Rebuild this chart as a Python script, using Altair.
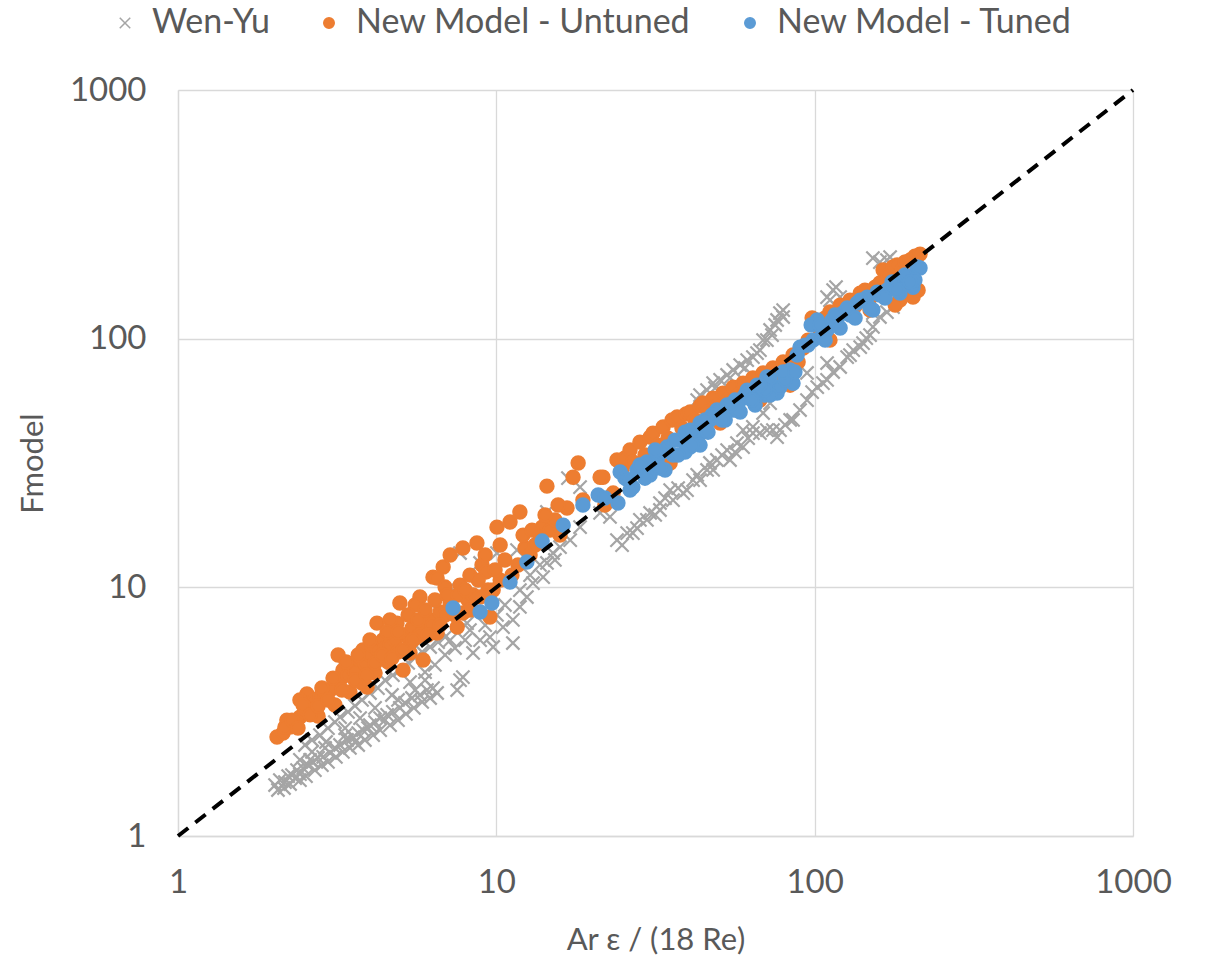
import altair as alt
import pandas as pd

# Values, stored as log10 exponents
# (log10 of Ar eps / (18 Re) and log10 of Fmodel).
wen_yu_log_x = [
    0.305, 0.320, 0.336, 0.346, 0.358, 0.374, 0.383, 0.393, 0.408, 0.424, 0.440, 0.456,
    0.478, 0.493, 0.509, 0.531, 0.550, 0.566, 0.581, 0.597, 0.619, 0.635, 0.657, 0.675,
    0.697, 0.713, 0.735, 0.760, 0.782, 0.801, 0.814, 0.877, 0.886, 0.895, 0.368, 0.415,
    0.462, 0.525, 0.556, 0.603, 0.650, 0.691, 0.745, 0.776,
    0.399, 0.421, 0.446, 0.471, 0.493, 0.509, 0.534, 0.556, 0.578, 0.603, 0.628, 0.650,
    0.675, 0.697, 0.723, 0.745, 0.767, 0.792, 0.817, 0.839, 0.855, 0.908, 0.927, 0.949,
    0.980, 0.990, 1.021, 1.052, 1.052, 1.074, 1.096, 1.115, 1.147, 1.159, 1.178, 1.200,
    1.232, 1.263, 0.823, 0.855, 0.886, 0.949, 1.002, 1.065, 1.159, 1.263, 1.326, 1.357,
    1.225,
    1.379, 1.411, 1.429, 1.451, 1.473, 1.483, 1.514, 1.514, 1.546, 1.555, 1.587, 1.599,
    1.618, 1.640, 1.662, 1.681, 1.693, 1.725, 1.734, 1.756, 1.775, 1.775, 1.806, 1.806,
    1.828, 1.850, 1.869, 1.882, 1.891, 1.923, 1.932, 1.954, 1.976, 2.008, 2.026, 2.039,
    2.058, 2.080, 2.102, 2.121, 2.143, 2.152, 2.174, 2.183, 2.205, 2.227, 2.246, 1.976,
    2.039, 1.838, 1.860, 2.183, 2.253,
    1.662, 1.681, 1.703, 1.725, 1.744, 1.766, 1.788, 1.819, 1.838, 1.850, 1.860, 1.876,
    1.882, 1.891, 1.901, 1.901, 2.039, 2.058, 2.080, 2.048, 2.067, 2.183, 2.205, 2.227,
    2.237, 1.631, 1.806,
    0.314, 0.333, 0.352, 0.383, 0.402, 0.430, 0.452, 0.471, 0.496, 0.518, 0.540, 0.566,
    0.587, 0.613, 0.635, 0.666, 0.691, 0.716, 0.741, 0.767, 0.792, 0.383, 0.421, 0.465,
    0.525, 0.572, 0.619, 0.672, 0.729, 0.776, 0.807, 0.839, 0.870, 0.902, 0.917, 0.965,
    1.002, 1.027, 1.074, 1.106, 1.137, 1.184,
    1.395, 1.442, 1.499, 1.530, 1.571, 1.631, 1.671, 1.709, 1.750, 1.791, 1.907, 1.992,
    2.111, 2.162, 1.640, 1.687, 1.734, 1.781, 1.828, 1.866,
]
wen_yu_log_y = [
    0.205, 0.225, 0.217, 0.241, 0.245, 0.265, 0.249, 0.273, 0.285, 0.298, 0.314, 0.318,
    0.334, 0.354, 0.366, 0.386, 0.398, 0.414, 0.426, 0.434, 0.458, 0.474, 0.487, 0.499,
    0.515, 0.535, 0.555, 0.567, 0.587, 0.595, 0.575, 0.587, 0.627, 0.639, 0.233, 0.306,
    0.354, 0.406, 0.378, 0.446, 0.466, 0.547, 0.587, 0.627,
    0.366, 0.386, 0.406, 0.434, 0.458, 0.478, 0.499, 0.523, 0.547, 0.575, 0.595, 0.627,
    0.647, 0.667, 0.696, 0.716, 0.740, 0.760, 0.780, 0.800, 0.788, 0.856, 0.736, 0.788,
    0.800, 0.760, 0.840, 0.869, 0.776, 0.921, 0.961, 1.017, 1.041, 1.098, 1.138, 1.162,
    1.190, 1.242, 0.897, 1.001, 1.138, 1.098, 1.138, 1.150, 1.303, 1.403, 1.299, 1.283,
    1.439,
    1.190, 1.218, 1.218, 1.271, 1.271, 1.299, 1.339, 1.311, 1.391, 1.351, 1.379, 1.391,
    1.431, 1.431, 1.472, 1.472, 1.512, 1.552, 1.512, 1.580, 1.632, 1.564, 1.645, 1.620,
    1.620, 1.632, 1.632, 1.604, 1.632, 1.673, 1.673, 1.713, 1.753, 1.805, 1.821, 1.834,
    1.866, 1.886, 1.926, 1.954, 1.966, 1.982, 2.014, 2.047, 2.087, 2.107, 2.127, 1.862,
    1.902, 1.701, 1.741, 2.103, 2.155,
    1.793, 1.821, 1.834, 1.854, 1.874, 1.894, 1.914, 1.942, 1.994, 1.994, 2.035, 2.055,
    2.075, 2.103, 2.087, 2.115, 2.167, 2.195, 2.167, 2.155, 2.207, 2.324, 2.308, 2.316,
    2.328, 1.753, 1.926,
    0.185, 0.193, 0.209, 0.225, 0.241, 0.265, 0.285, 0.298, 0.318, 0.338, 0.354, 0.366,
    0.386, 0.406, 0.426, 0.446, 0.466, 0.491, 0.515, 0.539, 0.555, 0.306, 0.338, 0.378,
    0.434, 0.474, 0.515, 0.567, 0.619, 0.659, 0.688, 0.728, 0.756, 0.788, 0.828, 0.848,
    0.889, 0.929, 0.989, 1.049, 1.090, 1.110,
    1.170, 1.238, 1.291, 1.359, 1.399, 1.452, 1.500, 1.532, 1.544, 1.600, 1.653, 1.785,
    1.934, 2.002, 1.773, 1.801, 1.842, 1.882, 1.954, 2.014,
]

untuned_log_x = [
    0.311, 0.330, 0.352, 0.371, 0.383, 0.399, 0.405, 0.415, 0.430, 0.446, 0.462, 0.478,
    0.493, 0.503, 0.509, 0.518, 0.534, 0.547, 0.556, 0.572, 0.581, 0.587, 0.594, 0.603,
    0.609, 0.625, 0.628, 0.644, 0.650, 0.666, 0.682, 0.688, 0.697, 0.707, 0.713, 0.729,
    0.735, 0.751, 0.760, 0.770, 0.776, 0.792, 0.801, 0.814, 0.823, 0.833, 0.855, 0.861,
    0.877, 0.886, 0.895, 0.911, 0.927, 0.939, 0.955, 0.968, 0.974, 0.980, 0.990, 1.002,
    1.027, 1.043, 1.049, 1.074, 1.068, 1.090, 1.106, 1.122, 1.144, 1.137, 1.159, 1.169,
    1.184, 1.222, 1.241, 1.257, 1.335, 0.895, 0.855, 0.814, 0.839, 0.745, 0.666, 1.200,
    1.272, 0.342, 0.383,
    0.440, 0.493, 0.540, 0.578, 0.619, 0.660, 0.691, 0.729, 0.760, 0.798, 0.839, 0.917,
    0.949, 1.012,
    0.336, 0.358, 0.377, 0.393, 0.415, 0.440, 0.452, 0.471, 0.487, 0.515, 0.528, 0.556,
    0.566, 0.591, 0.603, 0.619, 0.641, 0.657, 0.672, 0.691, 0.707, 0.723, 0.738, 0.754,
    0.776, 0.785, 0.807, 0.823, 0.845, 0.870, 0.880, 0.902, 0.917, 0.943, 0.965, 0.996,
    1.012, 1.084, 1.112, 1.153, 1.194,
    1.379, 1.395, 1.404, 1.420, 1.429, 1.451, 1.467, 1.483, 1.492, 1.508, 1.524, 1.539,
    1.552, 1.568, 1.583, 1.596, 1.609, 1.624, 1.640, 1.649, 1.665, 1.681, 1.697, 1.712,
    1.728, 1.744, 1.759, 1.775, 1.791, 1.806, 1.822, 1.838, 1.854, 1.869, 1.885, 1.901,
    1.916, 1.932, 1.948, 1.964, 1.979, 1.992, 2.001, 2.017, 2.033, 2.048, 2.064, 2.080,
    2.095, 2.111, 2.127, 2.143, 2.158, 2.174, 2.190, 2.205, 2.215, 2.231, 2.246, 2.259,
    2.275, 2.284, 2.300, 2.315, 2.331, 2.290, 2.309, 2.268, 2.325, 1.631, 1.703, 1.546,
    1.326, 1.367, 1.341, 1.483, 1.828, 1.923, 2.048, 2.174, 2.253,
]
untuned_log_y = [
    0.398, 0.414, 0.438, 0.458, 0.478, 0.499, 0.571, 0.535, 0.547, 0.559, 0.567, 0.587,
    0.603, 0.728, 0.627, 0.667, 0.647, 0.676, 0.659, 0.708, 0.748, 0.696, 0.599, 0.728,
    0.768, 0.856, 0.748, 0.788, 0.756, 0.768, 0.788, 0.856, 0.937, 0.667, 0.808, 0.736,
    0.836, 0.800, 0.961, 0.708, 0.848, 0.869, 1.041, 0.816, 0.901, 1.082, 0.937, 0.909,
    0.840, 1.009, 0.897, 0.949, 0.969, 1.178, 1.090, 1.062, 0.989, 0.881, 0.989, 1.242,
    1.110, 1.263, 1.049, 1.303, 1.090, 1.158, 1.130, 1.170, 1.242, 1.210, 1.407, 1.230,
    1.271, 1.319, 1.443, 1.500, 1.443, 1.158, 1.130, 1.037, 1.001, 0.929, 0.869, 1.210,
    1.351, 0.466, 0.547,
    0.482, 0.527, 0.579, 0.615, 0.655, 0.700, 0.740, 0.776, 0.808, 0.848, 0.889, 0.909,
    0.961, 1.029,
    0.438, 0.466, 0.434, 0.527, 0.487, 0.523, 0.595, 0.547, 0.635, 0.587, 0.700, 0.627,
    0.728, 0.647, 0.788, 0.696, 0.728, 0.820, 0.716, 0.820, 0.748, 0.889, 0.788, 0.869,
    0.909, 0.808, 0.949, 0.848, 0.969, 0.889, 0.969, 0.989, 1.049, 1.029, 1.130, 1.070,
    1.170, 1.210, 1.230, 1.291, 1.331,
    1.512, 1.472, 1.520, 1.552, 1.504, 1.584, 1.532, 1.604, 1.620, 1.572, 1.645, 1.600,
    1.673, 1.685, 1.641, 1.697, 1.705, 1.673, 1.729, 1.741, 1.705, 1.761, 1.733, 1.781,
    1.753, 1.805, 1.773, 1.821, 1.793, 1.842, 1.813, 1.862, 1.834, 1.882, 1.854, 1.906,
    1.874, 1.934, 1.906, 1.962, 1.994, 2.083, 2.067, 2.035, 2.083, 2.107, 2.075, 2.135,
    2.107, 2.155, 2.131, 2.183, 2.195, 2.163, 2.207, 2.224, 2.276, 2.256, 2.288, 2.296,
    2.276, 2.308, 2.316, 2.332, 2.340, 2.183, 2.167, 2.155, 2.195, 1.592, 1.661, 1.500,
    1.443, 1.379, 1.331, 1.472, 1.753, 1.813, 1.994, 2.115, 2.135,
]

tuned_log_x = [
    0.864, 0.949, 0.986, 1.043, 1.096, 1.144, 1.210, 1.272, 1.320, 1.382, 1.389, 1.429,
    1.461, 1.505, 1.536, 1.577, 1.609, 1.640, 1.671, 1.703, 1.744, 1.766, 1.797, 1.828,
    1.869, 1.882, 1.640, 1.693, 1.756, 1.788, 1.850, 1.891, 1.932, 1.923, 1.954, 1.995,
    2.008, 2.039, 2.070, 2.089, 2.133, 2.165, 2.183, 2.227, 2.268, 2.290, 2.322, 2.309,
    2.268, 1.404, 1.483, 1.555, 1.593, 1.656, 1.719, 1.813, 1.844, 1.907, 1.970, 2.023,
    2.111, 2.205, 2.246, 2.331, 1.989,
    1.414, 1.442, 1.473, 1.521, 1.561, 1.593, 1.624, 1.678, 1.725, 1.781, 1.819, 1.860,
    1.901, 1.945, 1.979, 2.017, 2.055, 2.102, 2.149, 2.196, 2.243, 2.284, 2.315, 1.499,
    1.656, 1.750, 1.341, 1.530, 1.640, 1.766, 1.860,
    1.420, 1.467, 1.514, 1.571, 1.615, 1.665, 1.709, 1.759, 1.803, 1.844, 1.938, 2.033,
    2.080, 2.127, 2.174, 2.221, 2.259, 2.300, 1.451, 1.609, 1.734, 1.828, 2.064, 2.143,
]
tuned_log_y = [
    0.917, 0.901, 0.937, 1.021, 1.102, 1.186, 1.250, 1.331, 1.371, 1.339, 1.464, 1.403,
    1.484, 1.512, 1.564, 1.592, 1.564, 1.620, 1.673, 1.685, 1.713, 1.753, 1.765, 1.793,
    1.805, 1.781, 1.661, 1.713, 1.713, 1.793, 1.846, 1.805, 1.821, 1.874, 1.966, 1.994,
    2.075, 2.035, 2.063, 2.103, 2.143, 2.167, 2.115, 2.195, 2.224, 2.248, 2.288, 2.207,
    2.183, 1.439, 1.452, 1.532, 1.544, 1.632, 1.673, 1.733, 1.773, 1.834, 1.974, 2.014,
    2.095, 2.175, 2.216, 2.284, 2.055,
    1.431, 1.472, 1.504, 1.544, 1.592, 1.624, 1.632, 1.693, 1.733, 1.773, 1.813, 1.842,
    1.866, 1.934, 1.974, 2.055, 2.075, 2.123, 2.155, 2.187, 2.228, 2.256, 2.236, 1.552,
    1.673, 1.753, 1.359, 1.472, 1.572, 1.705, 1.773,
    1.391, 1.439, 1.480, 1.532, 1.572, 1.624, 1.673, 1.713, 1.753, 1.793, 1.866, 1.994,
    2.043, 2.083, 2.123, 2.163, 2.195, 2.228, 1.492, 1.632, 1.733, 1.813, 2.095, 2.155,
]

series_names = ["Wen-Yu", "New Model - Untuned", "New Model - Tuned"]
series_colors = ["#A5A5A5", "#ED7D31", "#5B9BD5"]
x_symbol = "M-1,-1L1,1M-1,1L1,-1"

ref_x = [1, 1000]
ref_y = [1, 1000]

frames = []
for name, lx, ly in [
    (series_names[0], wen_yu_log_x, wen_yu_log_y),
    (series_names[1], untuned_log_x, untuned_log_y),
    (series_names[2], tuned_log_x, tuned_log_y),
]:
    frames.append(pd.DataFrame({
        "series": name,
        "x": [10 ** v for v in lx],
        "y": [10 ** v for v in ly],
    }))
df = pd.concat(frames, ignore_index=True)
df["order"] = range(len(df))

ref_df = pd.DataFrame({"x": ref_x, "y": ref_y})

FONT = "Lato"
GREY_TXT = "#595959"

x_scale = alt.Scale(type="log", domain=[1, 1000], nice=False)
y_scale = alt.Scale(type="log", domain=[1, 1000], nice=False)

x_axis = alt.Axis(values=[1, 10, 100, 1000], format="d", title="Ar ε / (18 Re)",
                  labelPadding=30, titlePadding=26, labelFlush=False, labelOverlap=False)
y_axis = alt.Axis(values=[1, 10, 100, 1000], format="d", title="Fmodel",
                  labelPadding=32, titlePadding=20, labelFlush=False, labelOverlap=False)

legend = alt.Legend(
    title=None, orient="none", direction="horizontal",
    legendX=-70, legendY=-84, labelLimit=0,
    labelFont=FONT, labelFontSize=34, labelColor=GREY_TXT,
    symbolSize=110, symbolStrokeWidth=1.5, columnPadding=42, labelOffset=10,
)

points = alt.Chart(df).mark_point(filled=True, strokeWidth=2.2, opacity=1, size=175).encode(
    x=alt.X("x:Q", scale=x_scale, axis=x_axis),
    y=alt.Y("y:Q", scale=y_scale, axis=y_axis),
    color=alt.Color("series:N", scale=alt.Scale(domain=series_names, range=series_colors), legend=legend),
    stroke=alt.Stroke("series:N", scale=alt.Scale(domain=series_names, range=series_colors), legend=legend),
    shape=alt.Shape("series:N", scale=alt.Scale(domain=series_names, range=[x_symbol, "circle", "circle"]), legend=legend),
    order=alt.Order("order:Q"),
)

ref_line = alt.Chart(ref_df).mark_line(color="black", strokeDash=[13, 9], strokeWidth=4).encode(
    x=alt.X("x:Q", scale=x_scale),
    y=alt.Y("y:Q", scale=y_scale),
)

chart = alt.layer(points, ref_line).properties(
    width=955, height=746,
    autosize=alt.AutoSizeParams(type="none"),
    padding={"left": 178, "top": 90, "right": 73, "bottom": 120},
    background="white",
).configure_view(stroke=None).configure_axis(
    grid=True, gridColor="#d9d9d9", gridWidth=1.3,
    domainColor="#d9d9d9", domainWidth=1.3, ticks=False,
    labelFont=FONT, labelFontSize=33, labelColor=GREY_TXT,
    titleFont=FONT, titleFontSize=31, titleColor=GREY_TXT, titleFontWeight="normal",
)

chart.save("out.html", embed_options={"renderer": "svg", "actions": False})
